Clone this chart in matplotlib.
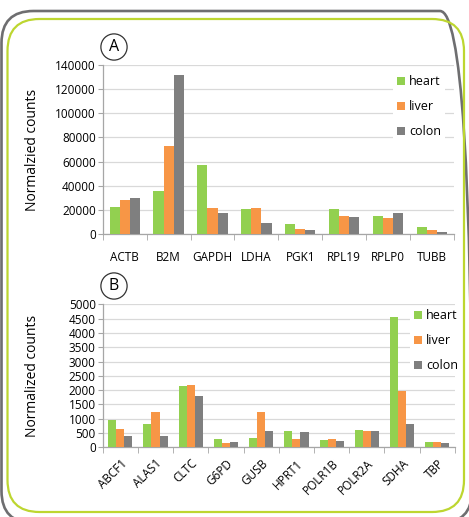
import matplotlib
matplotlib.use("Agg")
import matplotlib.pyplot as plt
import numpy as np
from matplotlib.patches import FancyBboxPatch
from matplotlib.transforms import IdentityTransform

plt.rcParams['font.family'] = ['Open Sans', 'DejaVu Sans']

tissues = ["heart", "liver", "colon"]
colors = ["#92D050", "#F79646", "#7F7F7F"]

# panel A - high expression genes
genes_a = ["ACTB", "B2M", "GAPDH", "LDHA", "PGK1", "RPL19", "RPLP0", "TUBB"]
heart_a = [22100, 35900, 57200, 20700, 8600, 20400, 14600, 5500]
liver_a = [27900, 72600, 21800, 21800, 4400, 15200, 13000, 3000]
colon_a = [29600, 132000, 17400, 9100, 3300, 14100, 17400, 1700]

# panel B - low expression genes
genes_b = ["ABCF1", "ALAS1", "CLTC", "G6PD", "GUSB", "HPRT1", "POLR1B", "POLR2A", "SDHA", "TBP"]
heart_b = [944, 816, 2145, 291, 315, 571, 245, 618, 4557, 186]
liver_b = [641, 1235, 2180, 163, 1235, 291, 280, 559, 1981, 186]
colon_b = [408, 385, 1795, 186, 571, 548, 210, 559, 828, 152]

W, H = 469, 517
fig = plt.figure(figsize=(W / 100, H / 100), dpi=100)

# rounded frames (pixel coords)
gray = FancyBboxPatch((1.5, -6), 470.5, 512, boxstyle="round,pad=0,rounding_size=32",
                      transform=IdentityTransform(), fill=False, ec="#6E6E70", lw=1.9)
green = FancyBboxPatch((7.5, 5), 456.5, 493, boxstyle="round,pad=0,rounding_size=32",
                       transform=IdentityTransform(), fill=False, ec="#BDD630", lw=1.6)
fig.patches.extend([gray, green])


def panel(rect, genes, series, ymax, step, ylabel, leg_anchor, rot):
    ax = fig.add_axes(rect)
    x = np.arange(len(genes))
    w = 0.23
    for i, (vals, c, lab) in enumerate(zip(series, colors, tissues)):
        ax.bar(x + (i - 1) * w, vals, width=w, color=c, label=lab, zorder=3)
    ax.set_xlim(-0.5, len(genes) - 0.5)
    ax.set_ylim(0, ymax)
    ax.set_yticks(np.arange(0, ymax + 1, step))
    ax.yaxis.grid(True, color="#D9D9D9", lw=0.9, zorder=0)
    for s in ["top", "right"]:
        ax.spines[s].set_visible(False)
    for s in ["left", "bottom"]:
        ax.spines[s].set_color("#A6A6A6")
        ax.spines[s].set_linewidth(0.9)
    ax.set_xticks(x)
    ax.set_xticks(np.arange(-0.5, len(genes)), minor=True)
    ax.tick_params(axis="x", which="major", length=0, labelsize=8.5, pad=12 if rot == 0 else 7)
    ax.tick_params(axis="x", which="minor", length=4, color="#A6A6A6")
    ax.tick_params(axis="y", length=3.5, color="#A6A6A6", labelsize=8.5, pad=1.5)
    if rot:
        ax.set_xticklabels(genes, rotation=45, ha="right", rotation_mode="anchor")
    else:
        ax.set_xticklabels(genes)
    ax.set_ylabel(ylabel, fontsize=10)
    ax.yaxis.set_label_coords(-0.178, 0.5)
    leg = ax.legend(loc="upper left", bbox_to_anchor=leg_anchor, frameon=True, fancybox=False,
                    edgecolor="none", facecolor="white", framealpha=1, fontsize=9,
                    handlelength=0.65, handleheight=0.65, handletextpad=0.35,
                    labelspacing=0.95, borderpad=0.3, borderaxespad=0)
    leg.set_zorder(5)
    return ax


ax_a = panel([0.219, 0.5474, 0.749, 0.3269], genes_a, [heart_a, liver_a, colon_a],
             140000, 20000, "Normalzied counts", (0.826, 0.96), 0)
ax_b = panel([0.219, 0.1348, 0.751, 0.2766], genes_b, [heart_b, liver_b, colon_b],
             5000, 500, "Normalized counts", (0.872, 0.99), 45)

circ = dict(boxstyle="circle,pad=0.32", fc="white", ec="#333333", lw=0.9)
fig.text(114 / W, 1 - 47 / H, "A", fontsize=11.5, ha="center", va="center", bbox=circ)
fig.text(114 / W, 1 - 286 / H, "B", fontsize=11.5, ha="center", va="center", bbox=circ)

fig.savefig("out.png", dpi=100)
